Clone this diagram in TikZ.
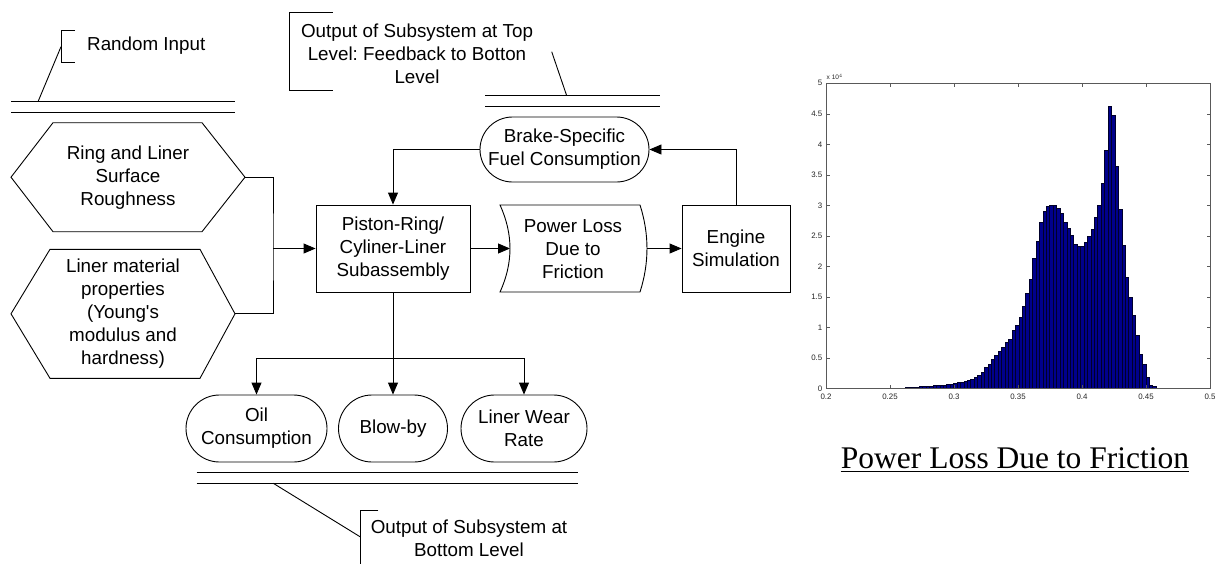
\documentclass[tikz,border=0pt]{standalone}
\usepackage{fontspec}
\setmainfont{Liberation Sans}
\newfontfamily\timesf{Liberation Serif}
\usetikzlibrary{arrows.meta}
\definecolor{barblue}{rgb}{0,0,0.55}
\definecolor{axgray}{gray}{0.35}
\frenchspacing
\begin{document}
\begin{tikzpicture}[x=1pt,y=-1pt,
  lbl/.style={font=\fontsize{18.8}{23}\selectfont, align=center, inner sep=0pt},
  ln/.style={line width=0.9pt},
  arr/.style={ln,-{Triangle[length=12pt,width=10pt]}},
  boxn/.style={draw, ln, rectangle, inner sep=0pt, align=center,
     font=\fontsize{18.8}{23}\selectfont},
  stad/.style={boxn, rounded corners=#1},
  ticklbl/.style={font=\fontsize{7.9}{9}\selectfont, inner sep=0pt, text=black!85}
]
\useasboundingbox (0,0) rectangle (1218,563);

% ---------- Random input annotation ----------
\draw[ln] (75,30) -- (61,30) -- (61,62.7) -- (75,62.7);
\node[lbl, anchor=west] (rin) at (87,46) {Random Input};
\coordinate (rinl) at (61,46.7);
\coordinate (rinp) at (38.3,101);
\draw[ln] (rinl) -- (rinp);
\draw[ln] (11,101) -- (235,101);
\draw[ln] (11,112) -- (235,112);

% ---------- Top output annotation ----------
\draw[ln] (332.7,12.3) -- (289.3,12.3) -- (289.3,90.7) -- (332.7,90.7);
\node[lbl] (topout) at (417,54) {Output of Subsystem at Top\\Level: Feedback to Botton\\Level};
\coordinate (tol) at (551.7,51.7);
\coordinate (top) at (566.7,95.7);
\draw[ln] (tol) -- (top);
\draw[ln] (485,95.7) -- (660,95.7);
\draw[ln] (485,106.7) -- (660,106.7);

% ---------- Hexagon inputs ----------
\draw[ln] (11,177.2) -- (53,122.7) -- (202,122.7) -- (245,177.2) -- (202,231.7) -- (53,231.7) -- cycle;
\node[lbl] (hex1) at (128,178) {Ring and Liner\\Surface\\Roughness};
\draw[ln] (11,313.8) -- (50,249.3) -- (200,249.3) -- (235,313.8) -- (200,378.3) -- (50,378.3) -- cycle;
\node[lbl] (hex2) at (123,314) {Liner material\\properties\\(Young\textquotesingle s\\modulus and\\hardness)};
\coordinate (h1r) at (245,177.2);
\coordinate (h2r) at (235,313.8);
\coordinate (jn) at (273,248.5);

% ---------- Main blocks ----------
\node[boxn, minimum width=154pt, minimum height=87pt] (piston) at (393,248.5) {Piston-Ring/\\Cyliner-Liner\\Subassembly};
\draw[ln] (500,205) -- (640,205) .. controls (649.3,234) and (649.3,263) .. (640,292)
  -- (500,292) .. controls (513.3,263) and (513.3,234) .. (500,205) -- cycle;
\node[lbl] (ploss) at (573,249) {Power Loss\\Due to\\Friction};
\coordinate (plin) at (510,248.5);
\coordinate (plout) at (647,248.5);
\node[boxn, minimum width=108pt, minimum height=87pt] (engine) at (736,248.5) {Engine\\Simulation};
\node[stad=32.5pt, minimum width=169pt, minimum height=65pt] (bsfc) at (564.5,149.5) {Brake-Specific\\Fuel Consumption};

\draw[ln] (h1r) -| (jn) |- (h2r);
\draw[arr] (jn) -- (piston);
\draw[arr] (piston.east) -- (plin);
\draw[arr] (plout) -- (engine.west);
\draw[arr] (engine.north) |- (bsfc.east);
\draw[arr] (bsfc.west) -| (piston.north);

% ---------- Outputs ----------
\node[stad=33.5pt, minimum width=141pt, minimum height=67pt] (oil) at (256.5,428.5) {Oil\\Consumption};
\node[stad=33.5pt, minimum width=109pt, minimum height=67pt] (blow) at (393,428.5) {Blow-by};
\node[stad=33.5pt, minimum width=126pt, minimum height=67pt] (liner) at (524,428.5) {Liner Wear\\Rate};
\coordinate (split) at (393,358);
\draw[ln] (piston.south) -- (split);
\draw[arr] (split) -| (oil.north);
\draw[arr] (split) -| (liner.north);
\draw[arr] (split) -- (blow.north);

% ---------- Bottom output annotation ----------
\draw[ln] (196.7,472.3) -- (578.3,472.3);
\draw[ln] (196.7,483.3) -- (578.3,483.3);
\coordinate (bol) at (273.3,483.3);
\coordinate (bop) at (360,536.7);
\draw[ln] (bol) -- (bop);
\draw[ln] (378.3,510.7) -- (360,510.7) -- (360,575);
\node[lbl] (botout) at (469,538) {Output of Subsystem at\\Bottom Level};

% ---------- Histogram ----------
\foreach \h [count=\i from 0] in {
 0.001,0.001,0.001,0.001,0.001,0.001,0.001,0.001,0.001,0.001,
 0.002,0.002,0.002,0.002,0.002,0.003,0.003,0.003,0.004,0.006,
 0.008,0.01,0.013,0.016,0.02,0.024,0.028,0.032,0.036,0.04,
 0.045,0.05,0.054,0.058,0.064,0.075,0.085,0.095,0.105,0.12,
 0.13,0.15,0.18,0.22,0.27,0.34,0.40,0.48,0.55,0.61,
 0.68,0.75,0.81,0.96,1.04,1.17,1.34,1.56,1.79,2.13,
 2.42,2.73,2.90,2.98,3.00,3.00,2.96,2.87,2.72,2.62,
 2.51,2.37,2.33,2.33,2.39,2.50,2.61,2.80,3.00,3.36,
 3.91,4.63,4.48,3.64,2.93,2.35,1.83,1.50,1.20,0.87,
 0.56,0.39,0.18,0.054,0.03,0.01,0.005,0.003,0.001,0.001}
{
  \filldraw[fill=barblue, draw=black!70!barblue, line width=0.2pt]
    (829.8+3.433*\i,388.3) rectangle (829.8+3.433*\i+3.433,388.3-61*\h);
}
\draw[axgray, line width=0.6pt] (826,83.3) rectangle (1210,388.3);
\foreach \k/\t in {0/0.2,1/0.25,2/0.3,3/0.35,4/0.4,5/0.45,6/0.5} {
  \draw[axgray, line width=0.6pt] (826+64*\k,388.3) -- ++(0,-3.5);
  \draw[axgray, line width=0.6pt] (826+64*\k,83.3) -- ++(0,3.5);
  \node[ticklbl] (xl\k) at (826+64*\k,397) {\t};
}
\foreach \k/\t in {0/0,1/0.5,2/1,3/1.5,4/2,5/2.5,6/3,7/3.5,8/4,9/4.5,10/5} {
  \draw[axgray, line width=0.6pt] (826,388.3-30.5*\k) -- ++(3.5,0);
  \draw[axgray, line width=0.6pt] (1210,388.3-30.5*\k) -- ++(-3.5,0);
  \node[ticklbl, anchor=east] (yl\k) at (822.5,388.3-30.5*\k) {\t};
}
\node[font=\fontsize{6.5}{8}\selectfont, inner sep=0pt, anchor=south west, text=black!85] (expo) at (826.5,80) {x 10$^{4}$};

% ---------- Title ----------
\node[font=\timesf\fontsize{31.5}{36}\selectfont, inner sep=0pt, anchor=base] (title) at (1015,468) {Power Loss Due to Friction};
\draw[line width=1.4pt] ([yshift=-3.5pt]title.base west) -- ([yshift=-3.5pt]title.base east);
\end{tikzpicture}
\end{document}
